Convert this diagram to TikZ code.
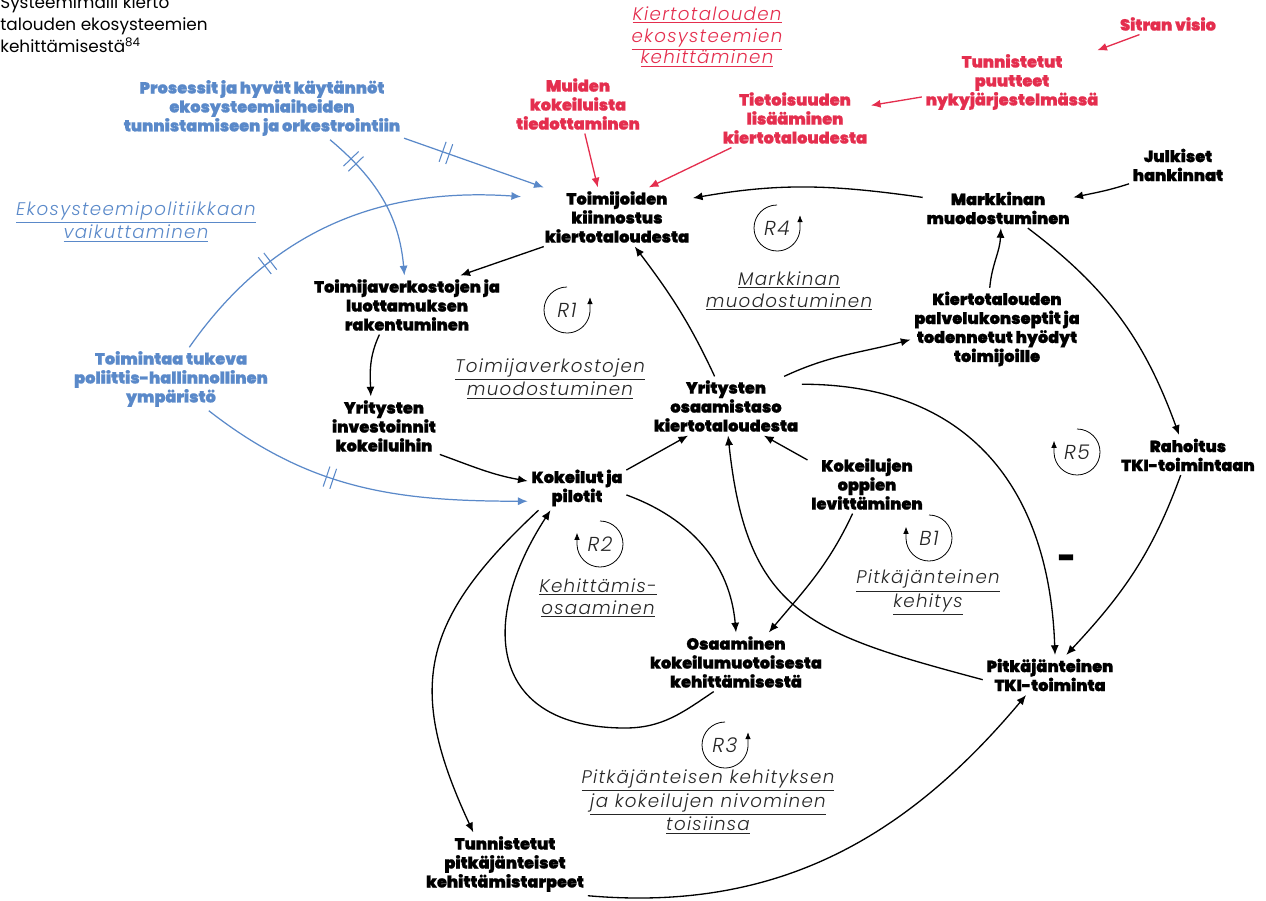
\documentclass[tikz,border=0pt]{standalone}
\usepackage{fontspec}
\setmainfont{Poppins}[BoldFont={Poppins Black}, BoldFeatures={FakeBold=0.7}]
\newfontfamily\thinfont{Poppins Light}[LetterSpace=7]
\usetikzlibrary{arrows.meta,decorations.markings,positioning}
\definecolor{sitrared}{RGB}{228,46,78}
\definecolor{sitrablue}{RGB}{90,137,201}
\tikzset{%
  >={Latex[length=5.5pt,width=4.6pt]},
  var/.style={font=\fontsize{9.2}{10.8}\selectfont\bfseries, align=center, inner sep=2pt},
  redvar/.style={var, text=sitrared},
  bluevar/.style={var, text=sitrablue},
  looptitle/.style={font=\fontsize{10.4}{12.5}\selectfont\thinfont\itshape, align=center, inner sep=1pt, text=black!85},
  loopmark/.style={draw, ->, >={Latex[length=4pt,width=3.2pt]}, line width=0.45pt},
  link/.style={draw, ->, line width=0.75pt},
  redlink/.style={link, draw=sitrared},
  bluelink/.style={link, draw=sitrablue, line width=0.7pt},
  delay/.style={postaction={decorate, decoration={markings, mark=at position #1 with {%
    \draw[-, sitrablue, line width=0.6pt] (-2pt,-6pt) -- (-2pt,6pt) (2pt,-6pt) -- (2pt,6pt);}}}}
}
\begin{document}
\begin{tikzpicture}[x=0.02cm, y=0.02cm]
\useasboundingbox (0,0) rectangle (1266,900);
\node[anchor=north west, align=left, inner sep=0pt, font=\fontsize{9.6}{12.6}\selectfont] (intro) at (0,905)
  {Systeemimalli kierto\\talouden ekosysteemien\\kehittämisestä\textsuperscript{84}};

% muuttujat
\node[var] (kiinnostus) at (617,683) {Toimijoiden\\kiinnostus\\kiertotaloudesta};
\node[var] (markkina) at (998,692) {Markkinan\\muodostuminen};
\node[var] (julkiset) at (1178,735) {Julkiset\\hankinnat};
\node[var] (verkostot) at (407,595) {Toimijaverkostojen ja\\luottamuksen\\rakentuminen};
\node[var] (palvelu) at (997,571) {Kiertotalouden\\palvelukonseptit ja\\todennetut hyödyt\\toimijoille};
\node[var] (investoinnit) at (384,474) {Yritysten\\investoinnit\\kokeiluihin};
\node[var] (osaamistaso) at (726,494) {Yritysten\\osaamistaso\\kiertotaloudesta};
\node[var] (kokeilut) at (577,412) {Kokeilut ja\\pilotit};
\node[var] (oppien) at (867,416) {Kokeilujen\\oppien\\levittäminen};
\node[var] (rahoitus) at (1188,445) {Rahoitus\\TKI-toimintaan};
\node[var] (osaaminen) at (736,238) {Osaaminen\\kokeilumuotoisesta\\kehittämisestä};
\node[var] (tki) at (1050,225) {Pitkäjänteinen\\TKI-toiminta};
\node[var] (tarpeet) at (505,36) {Tunnistetut\\pitkäjänteiset\\kehittämistarpeet};
\node[bluevar] (prosessit) at (262,792) {Prosessit ja hyvät käytännöt\\ekosysteemiaiheiden\\tunnistamiseen ja orkestrointiin};
\node[bluevar] (ymparisto) at (171,521) {Toimintaa tukeva\\poliittis-hallinnollinen\\ympäristö};
\node[redvar] (sitra) at (1168,876) {Sitran visio};
\node[redvar] (puutteet) at (1012,818) {Tunnistetut\\puutteet\\nykyjärjestelmässä};
\node[redvar] (tietoisuus) at (795,782) {Tietoisuuden\\lisääminen\\kiertotaloudesta};
\node[redvar] (muiden) at (578,796) {Muiden\\kokeiluista\\tiedottaminen};

% silmukoiden nimet
\node[looptitle, text=sitrared] (ekokeh) at (707,863) {\underline{Kiertotalouden}\\\underline{ekosysteemien}\\\underline{kehittäminen}};
\node[looptitle, text=sitrablue] (politiikka) at (136,678) {\underline{Ekosysteemipolitiikkaan}\\\underline{vaikuttaminen}};
\node[looptitle] (verkostotitle) at (550,521) {\underline{Toimijaverkostojen}\\\underline{muodostuminen}};
\node[looptitle] (markkinatitle) at (789,609) {\underline{Markkinan}\\\underline{muodostuminen}};
\node[looptitle] (kehtitle) at (598,302) {\underline{Kehittämis-}\\\underline{osaaminen}};
\node[looptitle] (pitktitle) at (928,307) {\underline{Pitkäjänteinen}\\\underline{kehitys}};
\node[looptitle] (nivtitle) at (708,98) {\underline{Pitkäjänteisen kehityksen}\\\underline{ja kokeilujen nivominen}\\\underline{toisiinsa}};

\foreach \name/\x/\y in {R1/567/590,R4/777/672,R3/725/155}{
  \node[looptitle, font=\fontsize{11.5}{12}\selectfont\thinfont\itshape] (loop\name) at (\x,\y) {\name};
  \draw[loopmark] (\x,\y) ++(90:23) arc[start angle=90, end angle=362, radius=23] -- ++(0,12);
}
\foreach \name/\x/\y in {R2/600/356,R5/1077/448,B1/929/362}{
  \node[looptitle, font=\fontsize{11.5}{12}\selectfont\thinfont\itshape] (loop\name) at (\x,\y) {\name};
  \draw[loopmark] (\x,\y) ++(90:23) arc[start angle=90, end angle=-178, radius=23] -- ++(0,12);
}

% punaiset
\draw[redlink] (sitra) -- (puutteet);
\draw[redlink] (puutteet) -- (tietoisuus);
\draw[redlink] (muiden.-77) -- (kiinnostus.123);
\draw[redlink] (tietoisuus.205) -- (kiinnostus.43);

% mustat
\draw[link] (markkina.172) to[out=172,in=10] (kiinnostus.14);
\draw[link] (julkiset.201) to[out=198,in=12] (markkina.8);
\draw[link] (palvelu.100) to[out=85,in=-92] (markkina.-82);
\draw[link] (markkina.-34) to[out=-37,in=110] (rahoitus.114);
\draw[link] (rahoitus.-110) to[out=-110,in=47] (tki.51);
\draw[link] (osaamistaso.111) to[out=115,in=-53] (kiinnostus.-59);
\draw[link] (kiinnostus.202) -- (verkostot.29);
\draw[link] (verkostot.-133) to[out=-115,in=92] (investoinnit.114);
\draw[link] (investoinnit.-27) to[out=-20,in=170] (kokeilut.172);
\draw[link] (kokeilut.20) -- (osaamistaso.-142);
\draw[link] (oppien.158) -- (osaamistaso.-38);
\draw[link] (osaamistaso.27) to[out=25,in=195] (palvelu.187);
\draw[link] (osaamistaso.16) to[out=0,in=92,looseness=1.15] (tki.76);
\draw[link] (tki.184) to[out=165,in=-84,looseness=1.3] (osaamistaso.-86);
\draw[link] (kokeilut.-8) to[out=-20,in=95] (osaaminen.90);
\draw[link] (oppien.-116) to[out=-115,in=50] (osaaminen.42);
\coordinate (r2low) at (625,172);
\draw[link] (osaaminen.-127) to[out=-146,in=0] (r2low) to[out=180,in=-123,looseness=1.5] (kokeilut.-140);
\draw[link] (kokeilut.-150) to[out=-137,in=115,looseness=1.25] (tarpeet.135);
\draw[link] (tarpeet.south east) to[out=-5,in=-130] (tki.-140);
\node[font=\fontsize{17}{17}\selectfont\bfseries] (minus) at (1067,339) {-};

% siniset
\draw[bluelink, delay=0.3] (prosessit.-12) -- (kiinnostus.158);
\draw[bluelink, delay=0.2] (prosessit.-25) to[out=-40,in=95] (verkostot.95);
\draw[bluelink, delay=0.3] (ymparisto.60) to[out=55,in=176] ([xshift=-0.4cm]kiinnostus.165);
\draw[bluelink, delay=0.41] (ymparisto.-40) to[out=-38,in=180] (kokeilut.195);
\end{tikzpicture}
\end{document}
